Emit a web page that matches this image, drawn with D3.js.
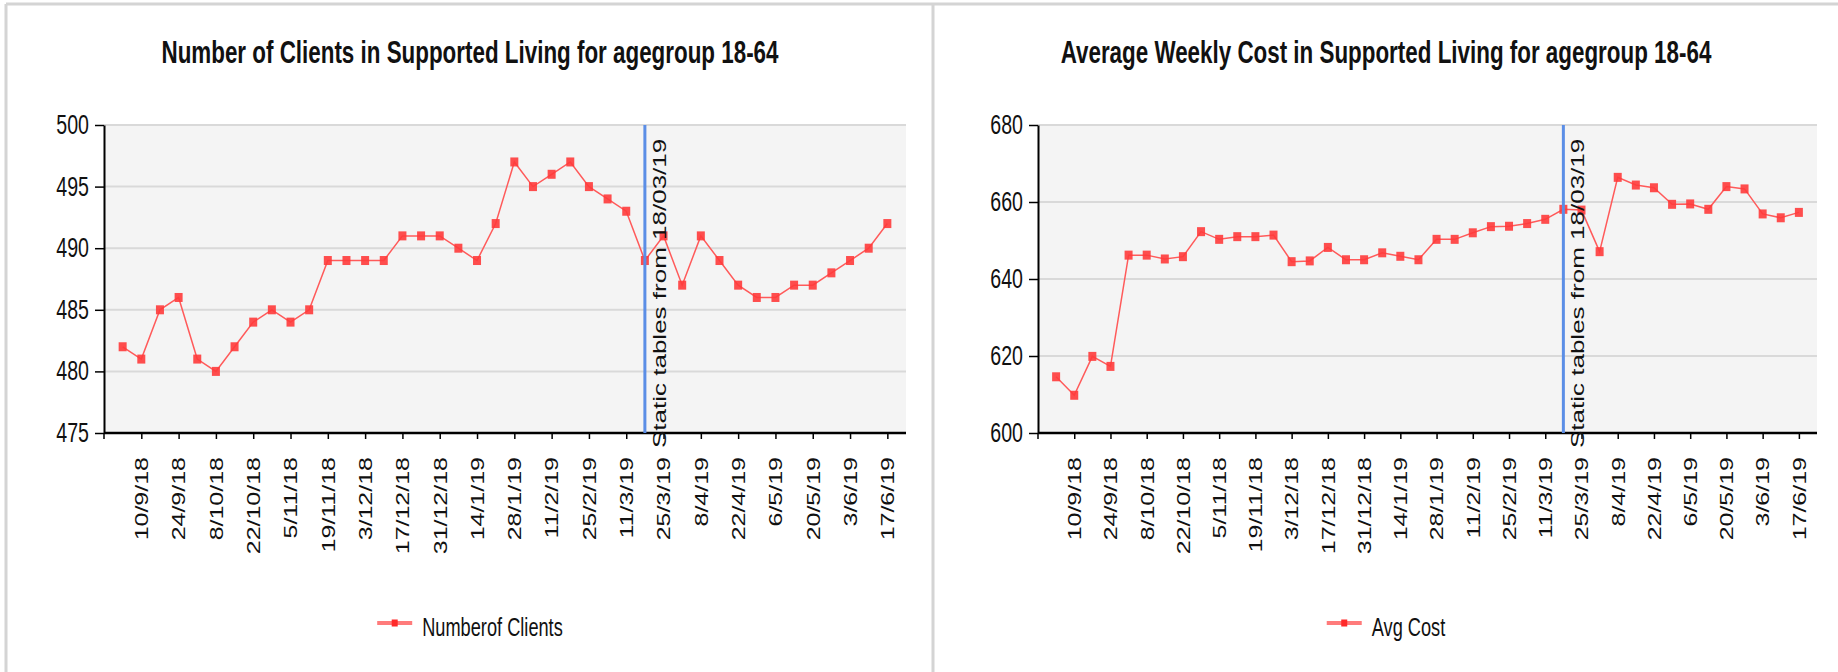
<!DOCTYPE html>
<html lang="en">
<head>
  <meta charset="UTF-8" />
  <title>Supported Living 18-64</title>
  <style>
    body {
      margin: 0;
      padding: 0;
      background: #ffffff;
      font-family: "Liberation Sans", Arial, sans-serif;
    }
    svg {
      display: block;
    }
  </style>
</head>
<body>
  <svg id="charts"></svg>

  <script src="https://cdnjs.cloudflare.com/ajax/libs/d3/7.8.5/d3.min.js"></script>
  <script>
    // weekly snapshot dates
    const weeks = [
      "3/9/18", "10/9/18", "17/9/18", "24/9/18", "1/10/18", "8/10/18", "15/10/18",
      "22/10/18", "29/10/18", "5/11/18", "12/11/18", "19/11/18", "26/11/18", "3/12/18",
      "10/12/18", "17/12/18", "24/12/18", "31/12/18", "7/1/19", "14/1/19", "21/1/19",
      "28/1/19", "4/2/19", "11/2/19", "18/2/19", "25/2/19", "4/3/19", "11/3/19",
      "18/3/19", "25/3/19", "1/4/19", "8/4/19", "15/4/19", "22/4/19", "29/4/19",
      "6/5/19", "13/5/19", "20/5/19", "27/5/19", "3/6/19", "10/6/19", "17/6/19"
    ];

    const clients = [
      482, 481, 485, 486, 481, 480, 482, 484, 485, 484, 485, 489, 489, 489,
      489, 491, 491, 491, 490, 489, 492, 497, 495, 496, 497, 495, 494, 493,
      489, 491, 487, 491, 489, 487, 486, 486, 487, 487, 488, 489, 490, 492
    ];

    const avgCost = [
      614.6, 609.8, 619.9, 617.3, 646.2, 646.2, 645.2, 645.8, 652.3, 650.3, 651.0, 651.0, 651.4, 644.5,
      644.7, 648.2, 645.0, 645.0, 646.8, 645.9, 645.0, 650.3, 650.3, 652.0, 653.6, 653.7, 654.4, 655.5,
      658.1, 657.9, 647.1, 666.4, 664.4, 663.7, 659.4, 659.5, 658.1, 664.0, 663.4, 656.9, 655.9, 657.3
    ];

    const clientTicks = [475, 480, 485, 490, 495, 500];
    const costTicks = [600, 620, 640, 660, 680];

    const staticDate = "18/3/19";
    const staticLabel = "Static tables from 18/03/19";

    const W = 1838, H = 672;
    const SX = 0.7; // the source picture is squeezed sideways
    const FONT = "'Liberation Sans', Arial, sans-serif";

    const svg = d3.select("#charts").attr("width", W).attr("height", H);

    // panel frame
    svg.append("line").attr("x1", 6).attr("x2", W).attr("y1", 4).attr("y2", 4)
      .attr("stroke", "#d4d4d4").attr("stroke-width", 3);
    svg.append("line").attr("x1", 6).attr("x2", 6).attr("y1", 4).attr("y2", H)
      .attr("stroke", "#d4d4d4").attr("stroke-width", 3);
    svg.append("line").attr("x1", 933).attr("x2", 933).attr("y1", 4).attr("y2", H)
      .attr("stroke", "#d4d4d4").attr("stroke-width", 3);

    const charts = [
      {
        title: "Number of Clients in Supported Living for agegroup 18-64",
        legend: "Numberof Clients",
        values: clients,
        ticks: clientTicks,
        center: 470,
        left: 104, right: 906
      },
      {
        title: "Average Weekly Cost in Supported Living for agegroup 18-64",
        legend: "Avg Cost",
        values: avgCost,
        ticks: costTicks,
        center: 1386,
        left: 1038, right: 1817
      }
    ];

    const plotTop = 125, plotBottom = 433;

    charts.forEach(drawChart);

    function drawChart(c) {
      const g = svg.append("g");

      const x = d3.scalePoint().domain(weeks).range([c.left, c.right]).padding(1);
      const y = d3.scaleLinear().domain(d3.extent(c.ticks)).range([plotBottom, plotTop]);

      // title
      g.append("text")
        .attr("transform", `translate(${c.center},63) scale(${SX},1)`)
        .attr("text-anchor", "middle")
        .attr("font-family", FONT)
        .attr("font-size", 32)
        .attr("font-weight", "bold")
        .attr("fill", "#111")
        .text(c.title);

      // plot background
      g.append("rect")
        .attr("x", c.left).attr("y", plotTop)
        .attr("width", c.right - c.left).attr("height", plotBottom - plotTop)
        .attr("fill", "#f4f4f4");

      // grid
      g.selectAll(".grid")
        .data(c.ticks)
        .join("line")
        .attr("x1", c.left).attr("x2", c.right)
        .attr("y1", d => y(d)).attr("y2", d => y(d))
        .attr("stroke", "#d9d9d9").attr("stroke-width", 2);

      // y axis
      const yAxis = g.append("g")
        .attr("transform", `translate(${c.left},0)`)
        .call(d3.axisLeft(y).tickValues(c.ticks).tickSize(9).tickSizeOuter(0).tickFormat(d3.format("d")));
      yAxis.select(".domain").attr("stroke", "#000").attr("stroke-width", 2);
      yAxis.selectAll(".tick line").attr("stroke", "#000").attr("stroke-width", 1.5);
      yAxis.selectAll(".tick text")
        .attr("x", 0)
        .attr("dy", "0.3em")
        .attr("transform", `translate(-15,0) scale(${SX},1)`)
        .attr("font-family", FONT)
        .attr("font-size", 28)
        .attr("fill", "#111");

      // x axis, labels on every second week
      const labelled = weeks.filter((d, i) => i % 2 === 1);
      const xAxis = g.append("g")
        .attr("transform", `translate(0,${plotBottom})`)
        .call(d3.axisBottom(x).tickValues(labelled).tickSize(6).tickSizeOuter(0));
      xAxis.select(".domain").attr("stroke", "#000").attr("stroke-width", 2.5)
        .attr("d", `M${c.left},0H${c.right}`);
      xAxis.selectAll(".tick line").attr("stroke", "#000").attr("stroke-width", 1.5);
      xAxis.selectAll(".tick text")
        .attr("x", 0).attr("y", 0)
        .attr("dy", "0.36em")
        .attr("text-anchor", "end")
        .attr("transform", `translate(0,24) scale(${SX},1) rotate(-90)`)
        .attr("font-family", FONT)
        .attr("font-size", 25)
        .attr("fill", "#111");
      xAxis.append("line")
        .attr("x1", c.left).attr("x2", c.left).attr("y1", 0).attr("y2", 6)
        .attr("stroke", "#000").attr("stroke-width", 1.5);

      // series line + markers
      const line = d3.line().x((d, i) => x(weeks[i])).y(d => y(d));
      g.append("path")
        .datum(c.values)
        .attr("d", line)
        .attr("fill", "none")
        .attr("stroke", "#ff5a5a")
        .attr("stroke-width", 1.5);

      g.selectAll(".pt")
        .data(c.values)
        .join("rect")
        .attr("x", (d, i) => x(weeks[i]) - 4)
        .attr("y", d => y(d) - 4.5)
        .attr("width", 8).attr("height", 9)
        .attr("fill", "#ff3b3b")
        .attr("opacity", 0.9);

      // static tables marker
      const sx = x(staticDate);
      g.append("line")
        .attr("x1", sx).attr("x2", sx).attr("y1", plotTop).attr("y2", plotBottom)
        .attr("stroke", "#5b8ee6").attr("stroke-width", 3);
      g.append("text")
        .attr("transform", `translate(${sx + 21},448) scale(${SX},1) rotate(-90)`)
        .attr("text-anchor", "start")
        .attr("font-family", FONT)
        .attr("font-size", 26)
        .attr("fill", "#111")
        .text(staticLabel);

      // legend
      const leg = g.append("g");
      const lt = leg.append("text")
        .attr("font-family", FONT)
        .attr("font-size", 26)
        .attr("fill", "#111")
        .text(c.legend);
      const tw = lt.node().getComputedTextLength() * SX;
      const total = 35 + 10 + tw;
      const lx = c.center - total / 2;
      lt.attr("transform", `translate(${lx + 45},636) scale(${SX},1)`);
      leg.append("line")
        .attr("x1", lx).attr("x2", lx + 35).attr("y1", 623).attr("y2", 623)
        .attr("stroke", "#ff6464").attr("stroke-width", 4).attr("opacity", 0.85);
      leg.append("rect")
        .attr("x", lx + 17.5 - 3).attr("y", 623 - 3.5)
        .attr("width", 6).attr("height", 7)
        .attr("fill", "#ff2a2a");
    }
  </script>
</body>
</html>
